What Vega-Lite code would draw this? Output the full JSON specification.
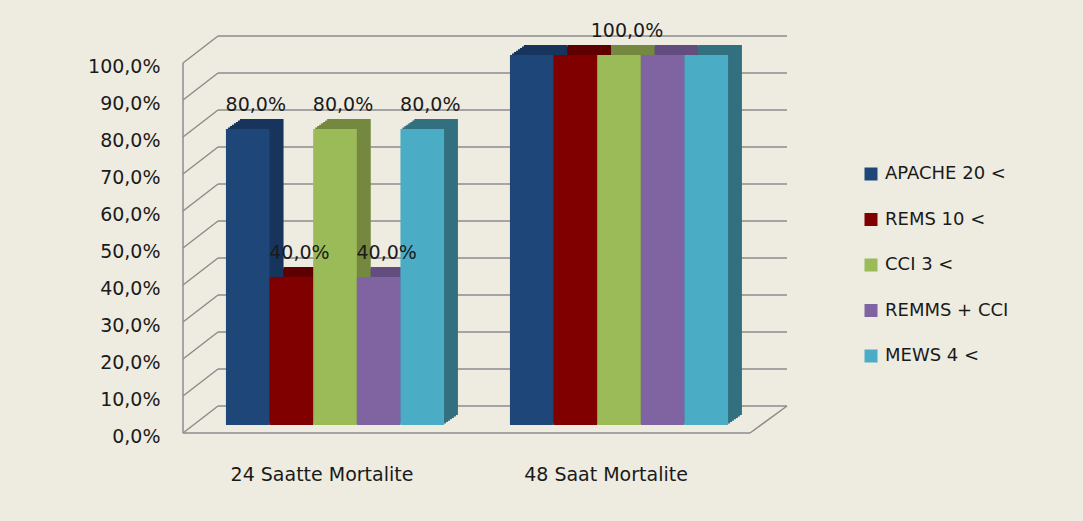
{
  "$schema": "https://vega.github.io/schema/vega-lite/v6.json",
  "autosize": {"type": "none"},
  "padding": {"left": 193, "top": 55, "right": 322, "bottom": 96},
  "width": 568,
  "height": 370,
  "background": "#EEECE1",
  "config": {
    "font": "DejaVu Sans",
    "view": {"stroke": null},
    "locale": {"number": {"decimal": ",", "thousands": ".", "grouping": [3], "currency": ["", " €"]}}
  },
  "datasets": {
    "mortality": [
      {"group": "24 Saatte Mortalite", "series": "APACHE 20 <", "value": 0.8},
      {"group": "24 Saatte Mortalite", "series": "REMS 10 <", "value": 0.4},
      {"group": "24 Saatte Mortalite", "series": "CCI 3 <", "value": 0.8},
      {"group": "24 Saatte Mortalite", "series": "REMMS + CCI", "value": 0.4},
      {"group": "24 Saatte Mortalite", "series": "MEWS 4 <", "value": 0.8},
      {"group": "48 Saat Mortalite", "series": "APACHE 20 <", "value": 1.0},
      {"group": "48 Saat Mortalite", "series": "REMS 10 <", "value": 1.0},
      {"group": "48 Saat Mortalite", "series": "CCI 3 <", "value": 1.0},
      {"group": "48 Saat Mortalite", "series": "REMMS + CCI", "value": 1.0},
      {"group": "48 Saat Mortalite", "series": "MEWS 4 <", "value": 1.0}
    ],
    "gridValues": [
      {"tick": 0}, {"tick": 0.1}, {"tick": 0.2}, {"tick": 0.3}, {"tick": 0.4}, {"tick": 0.5},
      {"tick": 0.6}, {"tick": 0.7}, {"tick": 0.8}, {"tick": 0.9}, {"tick": 1.0}
    ]
  },
  "encoding": {
    "x": {
      "field": "group", "type": "nominal", "sort": null, "title": null,
      "scale": {"paddingInner": 0.232, "paddingOuter": 0.116},
      "axis": {"domain": false, "ticks": false, "tickSize": 0, "labelPadding": 40, "labelOffset": -13, "labelAngle": 0, "labelLimit": 0, "labelFontSize": 19, "labelColor": "#1A1A1A", "labelBaseline": "top"}
    },
    "y": {
      "type": "quantitative", "title": null,
      "scale": {"domain": [0, 1], "nice": false},
      "axis": {"values": [0, 0.1, 0.2, 0.3, 0.4, 0.5, 0.6, 0.7, 0.8, 0.9, 1.0], "format": ".1%", "domain": false, "ticks": false, "grid": false, "offset": 25, "labelPadding": 8, "labelOffset": 11, "labelFontSize": 19, "labelColor": "#1A1A1A"}
    }
  },
  "layer": [
    {
      "data": {"name": "gridValues"},
      "mark": {"type": "rule", "color": "#8C8C8C", "strokeWidth": 1.5, "yOffset": -19},
      "encoding": {"y": {"field": "tick", "type": "quantitative"}, "x": {"value": 25}, "x2": {"value": 594}}
    },
    {
      "data": {"name": "gridValues"},
      "mark": {"type": "rule", "color": "#8C8C8C", "strokeWidth": 1.5, "yOffset": 8, "y2Offset": -19},
      "encoding": {"y": {"field": "tick", "type": "quantitative"}, "y2": {"field": "tick"}, "x": {"value": -10}, "x2": {"value": 25}}
    },
    {
      "data": {"values": [{}]},
      "mark": {"type": "rule", "color": "#8C8C8C", "strokeWidth": 1.5, "yOffset": 8, "y2Offset": 8},
      "encoding": {"y": {"datum": 0}, "y2": {"datum": 1}, "x": {"value": -10}}
    },
    {
      "data": {"values": [{}]},
      "mark": {"type": "rule", "color": "#8C8C8C", "strokeWidth": 1.5, "yOffset": 8},
      "encoding": {"y": {"datum": 0}, "x": {"value": -10}, "x2": {"value": 557}}
    },
    {
      "data": {"values": [{}]},
      "mark": {"type": "rule", "color": "#8C8C8C", "strokeWidth": 1.5, "yOffset": 8, "y2Offset": -19},
      "encoding": {"y": {"datum": 0}, "y2": {"datum": 0}, "x": {"value": 557}, "x2": {"value": 594}}
    },
    {
      "data": {"name": "mortality"},
      "encoding": {
        "y": {"field": "value", "type": "quantitative"},
        "color": {
          "field": "series", "type": "nominal", "legend": null,
          "scale": {"domain": ["APACHE 20 <", "REMS 10 <", "CCI 3 <", "REMMS + CCI", "MEWS 4 <"], "range": ["#17345C", "#5E0000", "#74893F", "#634C7E", "#33707F"]}
        }
      },
      "layer": [
        {"mark": {"type": "bar", "yOffset": -1.4, "y2Offset": -1.4},
         "encoding": {"xOffset": {"field": "series", "type": "nominal", "sort": ["APACHE 20 <", "REMS 10 <", "CCI 3 <", "REMMS + CCI", "MEWS 4 <"], "scale": {"range": [2, 220], "paddingInner": 0, "paddingOuter": 0}}}},
        {"mark": {"type": "bar", "yOffset": -2.9, "y2Offset": -2.9},
         "encoding": {"xOffset": {"field": "series", "type": "nominal", "sort": ["APACHE 20 <", "REMS 10 <", "CCI 3 <", "REMMS + CCI", "MEWS 4 <"], "scale": {"range": [4, 222], "paddingInner": 0, "paddingOuter": 0}}}},
        {"mark": {"type": "bar", "yOffset": -4.3, "y2Offset": -4.3},
         "encoding": {"xOffset": {"field": "series", "type": "nominal", "sort": ["APACHE 20 <", "REMS 10 <", "CCI 3 <", "REMMS + CCI", "MEWS 4 <"], "scale": {"range": [6, 224], "paddingInner": 0, "paddingOuter": 0}}}},
        {"mark": {"type": "bar", "yOffset": -5.7, "y2Offset": -5.7},
         "encoding": {"xOffset": {"field": "series", "type": "nominal", "sort": ["APACHE 20 <", "REMS 10 <", "CCI 3 <", "REMMS + CCI", "MEWS 4 <"], "scale": {"range": [8, 226], "paddingInner": 0, "paddingOuter": 0}}}},
        {"mark": {"type": "bar", "yOffset": -7.1, "y2Offset": -7.1},
         "encoding": {"xOffset": {"field": "series", "type": "nominal", "sort": ["APACHE 20 <", "REMS 10 <", "CCI 3 <", "REMMS + CCI", "MEWS 4 <"], "scale": {"range": [10, 228], "paddingInner": 0, "paddingOuter": 0}}}},
        {"mark": {"type": "bar", "yOffset": -8.6, "y2Offset": -8.6},
         "encoding": {"xOffset": {"field": "series", "type": "nominal", "sort": ["APACHE 20 <", "REMS 10 <", "CCI 3 <", "REMMS + CCI", "MEWS 4 <"], "scale": {"range": [12, 230], "paddingInner": 0, "paddingOuter": 0}}}},
        {"mark": {"type": "bar", "yOffset": -10, "y2Offset": -10},
         "encoding": {"xOffset": {"field": "series", "type": "nominal", "sort": ["APACHE 20 <", "REMS 10 <", "CCI 3 <", "REMMS + CCI", "MEWS 4 <"], "scale": {"range": [14, 232], "paddingInner": 0, "paddingOuter": 0}}}}
      ],
      "resolve": {"scale": {"xOffset": "independent"}}
    },
    {
      "data": {"name": "mortality"},
      "encoding": {
        "xOffset": {"field": "series", "type": "nominal", "sort": ["APACHE 20 <", "REMS 10 <", "CCI 3 <", "REMMS + CCI", "MEWS 4 <"], "scale": {"type": "band", "paddingInner": 0, "paddingOuter": 0}},
        "y": {"field": "value", "type": "quantitative"}
      },
      "layer": [
        {
          "mark": {"type": "bar"},
          "encoding": {
            "color": {
              "field": "series", "type": "nominal", "title": null,
              "scale": {"domain": ["APACHE 20 <", "REMS 10 <", "CCI 3 <", "REMMS + CCI", "MEWS 4 <"], "range": ["#1F4679", "#800000", "#9BBB59", "#8064A2", "#4BACC6"]},
              "legend": {
                "orient": "none", "legendX": 669, "legendY": 110, "padding": 0,
                "symbolType": "square", "symbolSize": 169, "symbolStrokeWidth": 0, "symbolOpacity": 1,
                "labelFontSize": 18, "labelColor": "#1A1A1A", "labelOffset": 5, "rowPadding": 27.5
              }
            }
          }
        },
        {
          "transform": [{"filter": "datum.group == '24 Saatte Mortalite' || datum.series == 'CCI 3 <'"}],
          "mark": {"type": "text", "fontSize": 19, "color": "#1A1A1A", "baseline": "middle", "dy": -24, "dx": 8},
          "encoding": {
            "text": {"field": "value", "type": "quantitative", "format": ".1%"}
          }
        }
      ]
    }
  ],
  "resolve": {"scale": {"color": "independent", "xOffset": "independent"}}
}
